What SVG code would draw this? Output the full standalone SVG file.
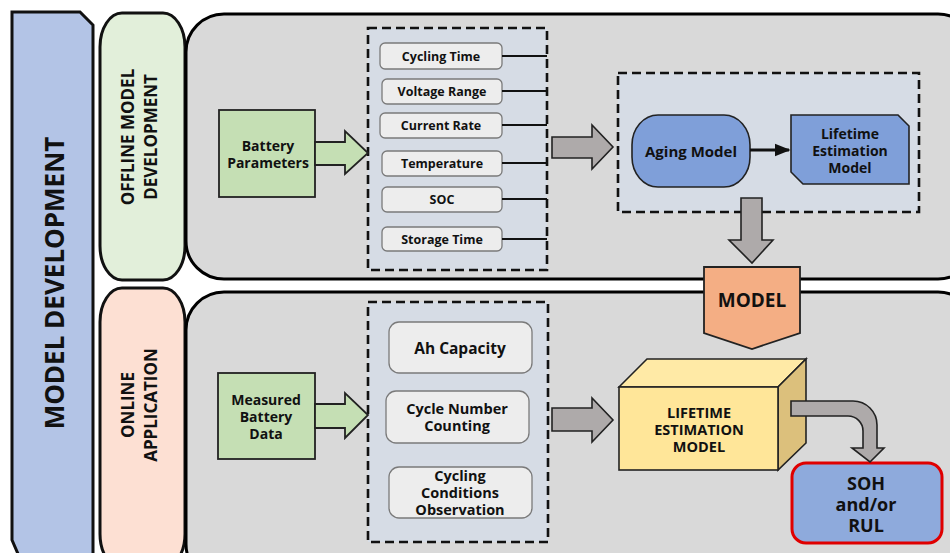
<svg xmlns="http://www.w3.org/2000/svg" width="950" height="553" viewBox="0 0 950 553">
  <defs>
    <style>
      text { font-family: "Open Sans", "Noto Sans", "Liberation Sans", sans-serif; font-weight: bold; fill: #111; text-anchor: middle; dominant-baseline: central; }
      .panel { fill: #d9d9d9; stroke: #000; stroke-width: 3; }
      .dash { fill: #d6dce5; stroke: #111; stroke-width: 2.6; stroke-dasharray: 9 5; }
      .param { fill: #ededed; stroke: #7a7a7a; stroke-width: 1.3; }
      .green { fill: #c5dfb4; stroke: #222; stroke-width: 1.8; }
      .garrow { fill: #aeaaaa; stroke: #222; stroke-width: 1.6; }
      .blue { fill: #7f9fd9; stroke: #222; stroke-width: 1.6; }
      .link { stroke: #111; stroke-width: 1.8; fill: none; }
      .t13 { font-size: 12.5px; }
      .t14 { font-size: 14px; }
      .t15 { font-size: 14.5px; }
    </style>
    <marker id="head" viewBox="0 0 10 10" refX="9" refY="5" markerWidth="5" markerHeight="5" orient="auto" markerUnits="strokeWidth">
      <path d="M0,1 L10,5 L0,9 Z" fill="#111"/>
    </marker>
  </defs>

  <rect width="950" height="553" fill="#ffffff"/>

  <!-- left title column -->
  <g id="model-development">
    <path d="M12,12 H80 L93,25 V570 H25 L12,540 Z" fill="#b3c4e6" stroke="#111" stroke-width="3"/>
    <text transform="translate(54,283) rotate(-90)" font-size="26">MODEL DEVELOPMENT</text>
  </g>

  <g id="offline-label">
    <rect x="100" y="13" width="85" height="267" rx="22" ry="34" fill="#e2efda" stroke="#111" stroke-width="3"/>
    <text transform="translate(127,137) rotate(-90)" font-size="17">OFFLINE MODEL</text>
    <text transform="translate(150,137) rotate(-90)" font-size="17">DEVELOPMENT</text>
  </g>

  <g id="online-label">
    <rect x="100" y="288" width="85" height="280" rx="22" ry="34" fill="#fde0d3" stroke="#111" stroke-width="3"/>
    <text transform="translate(127,405) rotate(-90)" font-size="17">ONLINE</text>
    <text transform="translate(150,405) rotate(-90)" font-size="17">APPLICATION</text>
  </g>

  <!-- background panels -->
  <g id="offline-panel">
    <rect class="panel" x="186" y="14" width="790" height="265" rx="38" ry="38"/>
  </g>
  <g id="online-panel">
    <rect class="panel" x="186" y="292" width="790" height="290" rx="38" ry="38"/>
  </g>

  <!-- offline parameter set -->
  <g id="parameters">
    <rect class="dash" x="368" y="28" width="179" height="242"/>
    <rect class="param" x="380" y="43" width="122" height="26" rx="5"/>
    <text class="t13" x="441" y="56">Cycling Time</text>
    <rect class="param" x="382" y="79" width="120" height="25" rx="5"/>
    <text class="t13" x="442" y="91.5">Voltage Range</text>
    <rect class="param" x="380" y="113" width="122" height="25" rx="5"/>
    <text class="t13" x="441" y="125.5">Current Rate</text>
    <rect class="param" x="382" y="151" width="120" height="25" rx="5"/>
    <text class="t13" x="442" y="163.5">Temperature</text>
    <rect class="param" x="382" y="187" width="120" height="25" rx="5"/>
    <text class="t13" x="442" y="199.5">SOC</text>
    <rect class="param" x="382" y="227" width="120" height="24" rx="5"/>
    <text class="t13" x="442" y="239">Storage Time</text>
  </g>

  <g id="battery-parameters">
    <rect class="green" x="219" y="110" width="96" height="87"/>
    <text class="t14" x="268" y="145">Battery</text>
    <text class="t14" x="268" y="162">Parameters</text>
  </g>

  <!-- offline models -->
  <g id="model-box">
    <rect class="dash" x="618" y="73" width="301" height="139"/>
  </g>
  <g id="aging-model">
    <rect class="blue" x="632" y="115" width="118" height="72" rx="26" ry="30"/>
    <text x="691" y="151" font-size="15px">Aging Model</text>
  </g>
  <g id="lifetime-estimation-model">
    <path class="blue" d="M791,115 H898 L909,126 V184 H803 L791,172 Z"/>
    <text class="t14" x="850" y="133">Lifetime</text>
    <text class="t14" x="850" y="150">Estimation</text>
    <text class="t14" x="850" y="167">Model</text>
  </g>

  <!-- online measurements -->
  <g id="measurements">
    <rect class="dash" x="368" y="302" width="180" height="240"/>
    <rect class="param" x="389" y="322" width="143" height="51" rx="10"/>
    <text x="460" y="348" font-size="15.5px">Ah Capacity</text>
    <rect class="param" x="386" y="391" width="143" height="52" rx="10"/>
    <text class="t15" x="457" y="408">Cycle Number</text>
    <text class="t15" x="457" y="425">Counting</text>
    <rect class="param" x="389" y="467" width="143" height="51" rx="10"/>
    <text class="t15" x="460" y="475">Cycling</text>
    <text class="t15" x="460" y="492">Conditions</text>
    <text class="t15" x="460" y="509">Observation</text>
  </g>

  <g id="measured-battery-data">
    <rect class="green" x="218" y="373" width="97" height="86"/>
    <text class="t14" x="266" y="399">Measured</text>
    <text class="t14" x="266" y="416">Battery</text>
    <text class="t14" x="266" y="433">Data</text>
  </g>

  <g id="lifetime-cube">
    <polygon points="619,387 647,359 806,359 778,387" fill="#ffeaa6" stroke="#222" stroke-width="1.6"/>
    <polygon points="778,387 806,359 806,443 778,470" fill="#dcc07c" stroke="#222" stroke-width="1.6"/>
    <rect x="619" y="387" width="159" height="83" fill="#ffe699" stroke="#222" stroke-width="1.6"/>
    <text x="699" y="412" font-size="14.5px">LIFETIME</text>
    <text x="699" y="429" font-size="14.5px">ESTIMATION</text>
    <text x="699" y="446" font-size="14.5px">MODEL</text>
  </g>

  <g id="soh-rul">
    <rect x="792" y="463" width="150" height="80" rx="14" fill="#8eaadc" stroke="#e00000" stroke-width="3"/>
    <text x="866" y="483" font-size="18">SOH</text>
    <text x="866" y="504" font-size="18">and/or</text>
    <text x="866" y="525" font-size="18">RUL</text>
  </g>

  <!-- connectors -->
  <g id="connectors">
    <path class="link" d="M502,56 H547 M502,91 H547 M502,125 H547 M502,163 H547 M502,199 H547 M502,239 H547"/>
    <path class="green" d="M315,142 H345 V131 L368,153 L345,174 V165 H315 Z"/>
    <path class="green" d="M315,404 H345 V393 L368,415 L345,438 V428 H315 Z"/>
    <path class="garrow" d="M552,137 H592 V125 L613,147 L592,169 V158 H552 Z"/>
    <path class="garrow" d="M552,408 H592 V398 L613,420 L592,442 V431 H552 Z"/>
    <path class="garrow" d="M741,198 H762 V240 H773 L752,263 L729,240 H741 Z"/>
    <line x1="750" y1="150" x2="789" y2="150" stroke="#111" stroke-width="3.2" marker-end="url(#head)"/>
    <path class="garrow" d="M791,401 H853 A24,24 0 0 1 877,425 V448 H884 L870,462 L852,448 H863 V431 A15,15 0 0 0 848,416 H791 Z"/>
  </g>

  <!-- MODEL hand-over between the two stages -->
  <g id="model">
    <path d="M704,267 H800 V333 L752,349 L704,333 Z" fill="#f4ae84" stroke="#222" stroke-width="1.8"/>
    <text x="752" y="300" font-size="19">MODEL</text>
  </g>
</svg>
